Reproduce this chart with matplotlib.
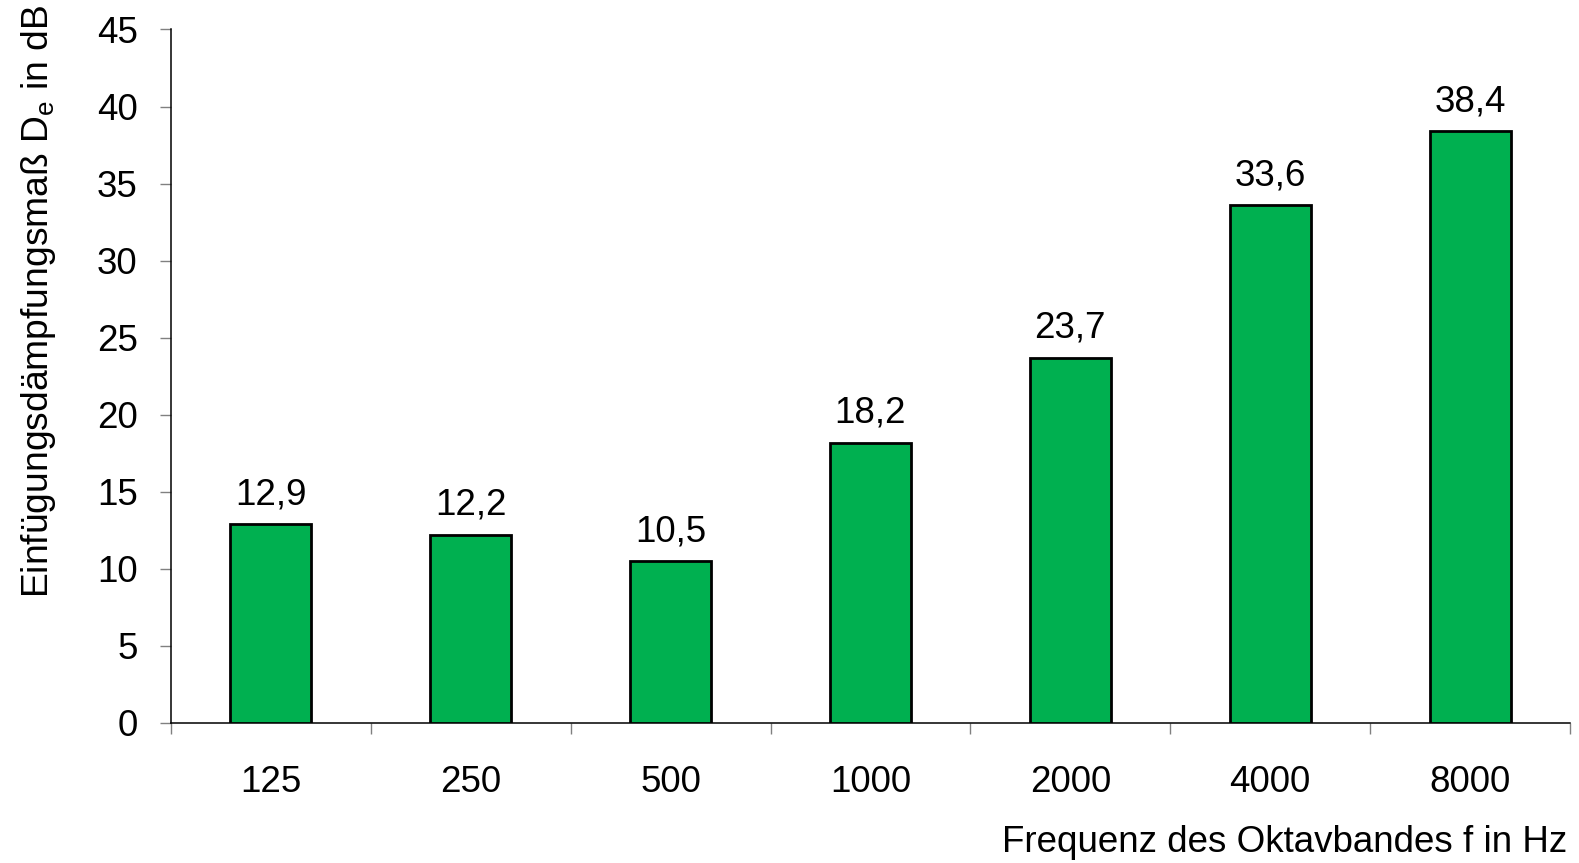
import numpy as np
import matplotlib
matplotlib.use('Agg')
import matplotlib.pyplot as plt

# Oktavbänder und Einfügungsdämpfung
freqs = ['125', '250', '500', '1000', '2000', '4000', '8000']
values = [12.9, 12.2, 10.5, 18.2, 23.7, 33.6, 38.4]
yticks = [0, 5, 10, 15, 20, 25, 30, 35, 40, 45]

plt.rcParams['font.family'] = ['Liberation Sans', 'DejaVu Sans']
plt.rcParams['mathtext.fontset'] = 'custom'
plt.rcParams['mathtext.rm'] = 'Liberation Sans'
plt.rcParams['mathtext.it'] = 'Liberation Sans'

W, H = 1579, 863
fs = 26.5
fig = plt.figure(figsize=(W/100, H/100), dpi=100)
ax = fig.add_axes([171/W, 1 - 723/H, (1570 - 171)/W, (723 - 29.5)/H])

x = np.arange(len(freqs))
ax.bar(x, values, width=0.405, color='#00B050', edgecolor='black', linewidth=2, zorder=3)

for xi, v in zip(x, values):
    ax.annotate(('%.1f' % v).replace('.', ','), (xi, v), xytext=(0, 14.5),
                textcoords='offset points', ha='center', va='baseline', fontsize=fs)

ax.set_xlim(-0.5, len(freqs) - 0.5)
ax.set_ylim(0, 45)
ax.set_yticks(yticks)
ax.set_yticklabels([str(t) for t in yticks], fontsize=fs)
ax.set_xticks(x)
ax.set_xticklabels(freqs, fontsize=fs)
ax.set_xticks(np.arange(len(freqs) + 1) - 0.5, minor=True)
ax.tick_params(axis='x', which='major', length=0, pad=30)
ax.tick_params(axis='x', which='minor', length=8, width=1, color='#808080', direction='out')
ax.tick_params(axis='y', length=8, width=1, color='#808080', direction='out', pad=16)

for s in ['top', 'right']:
    ax.spines[s].set_visible(False)
for s in ['left', 'bottom']:
    ax.spines[s].set_linewidth(1.1)
    ax.spines[s].set_color('black')

fig.text(1567/W, 1 - 852/H, 'Frequenz des Oktavbandes f in Hz', ha='right', va='baseline', fontsize=fs)
fig.text(48/W, 1 - 598/H, r'Einfügungsdämpfungsmaß D$_\mathrm{e}$ in dB', rotation=90,
         rotation_mode='anchor', ha='left', va='baseline', fontsize=26.8)

plt.savefig('out.png', dpi=100)
